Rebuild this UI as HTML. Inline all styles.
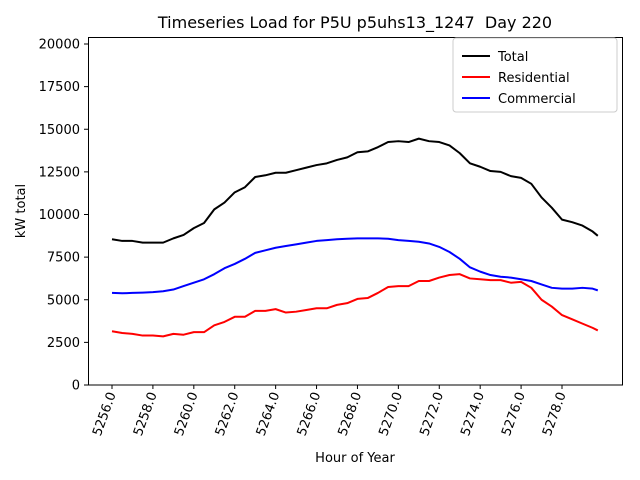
<!DOCTYPE html>
<html><head><meta charset="utf-8"><style>body{margin:0;background:#fff}svg{display:block;font-family:"DejaVu Sans","Liberation Sans",sans-serif}</style></head>
<body>
<svg id="chart" width="640" height="480" viewBox="0 0 640 480">
<rect width="640" height="480" fill="#fff"/>
<text x="355" y="28" font-size="16" text-anchor="middle">Timeseries Load for P5U p5uhs13_1247&#160; Day 220</text>
<g id="grid"></g>
<g id="series"></g>
<rect x="88.5" y="37.5" width="534" height="347.5" fill="none" stroke="#000" stroke-width="1"/>
<text transform="translate(25,211) rotate(-90)" font-size="13" text-anchor="middle">kW total</text>
<text x="355" y="462" font-size="13" text-anchor="middle">Hour of Year</text>
<g>
<rect x="453" y="38" width="164" height="74" rx="3" fill="#fff" stroke="#ccc"/>
<line x1="462" y1="56" x2="490" y2="56" stroke="#000" stroke-width="2"/><text x="498" y="61" font-size="13">Total</text>
<line x1="462" y1="77" x2="490" y2="77" stroke="red" stroke-width="2"/><text x="498" y="82" font-size="13">Residential</text>
<line x1="462" y1="98" x2="490" y2="98" stroke="blue" stroke-width="2"/><text x="498" y="103" font-size="13">Commercial</text>
</g>
</svg>
<script>
const hours=[5256,5256.5,5257,5257.5,5258,5258.5,5259,5259.5,5260,5260.5,5261,5261.5,5262,5262.5,5263,5263.5,5264,5264.5,5265,5265.5,5266,5266.5,5267,5267.5,5268,5268.5,5269,5269.5,5270,5270.5,5271,5271.5,5272,5272.5,5273,5273.5,5274,5274.5,5275,5275.5,5276,5276.5,5277,5277.5,5278,5278.5,5279,5279.5,5279.75];
const total=[8550,8450,8450,8350,8350,8350,8600,8800,9200,9500,10300,10700,11300,11600,12200,12300,12450,12450,12600,12750,12900,13000,13200,13350,13650,13700,13950,14250,14300,14250,14450,14300,14250,14050,13600,13000,12800,12550,12500,12250,12150,11800,11000,10400,9700,9550,9350,9000,8750];
const residential=[3150,3050,3000,2900,2900,2850,3000,2950,3100,3100,3500,3700,4000,4000,4350,4350,4450,4250,4300,4400,4500,4500,4700,4800,5050,5100,5400,5750,5800,5800,6100,6100,6300,6450,6500,6250,6200,6150,6150,6000,6050,5700,5000,4600,4100,3850,3600,3350,3200];
const commercial=[5400,5380,5400,5420,5450,5500,5600,5800,6000,6200,6500,6850,7100,7400,7750,7900,8050,8150,8250,8350,8450,8500,8550,8580,8600,8600,8600,8580,8500,8450,8400,8300,8100,7800,7400,6900,6650,6450,6350,6300,6200,6100,5900,5700,5650,5650,5700,5650,5550];
const yTicks=[0,2500,5000,7500,10000,12500,15000,17500,20000];
const xTicks=[5256,5258,5260,5262,5264,5266,5268,5270,5272,5274,5276,5278];
const NS="http://www.w3.org/2000/svg";
const X=h=>112+(h-5256)*20.4545;
const Y=v=>385-v*341/20000;
const grid=document.getElementById('grid');
function mk(tag,attrs,parent){const e=document.createElementNS(NS,tag);for(const k in attrs)e.setAttribute(k,attrs[k]);parent.appendChild(e);return e;}
yTicks.forEach(v=>{
  const y=Y(v);
  const t=mk('line',{x1:84,x2:88,y1:y,y2:y,stroke:'#000'},grid);
  
  
  const l=mk('text',{x:80,y:y+4.5,'font-size':13,'text-anchor':'end'},grid);
  l.textContent=v;
  
  
});
xTicks.forEach(h=>{
  const x=X(h);
  const t=mk('line',{x1:x,x2:x,y1:385,y2:389,stroke:'#000'},grid);
  
  
  const l=mk('text',{transform:`translate(${x+4},394) rotate(-70)`,'font-size':13,'text-anchor':'end'},grid);
  l.textContent=h.toFixed(1);
  
  
});
const sg=document.getElementById('series');
[[total,'#000','total-line'],[residential,'red','residential-line'],[commercial,'blue','commercial-line']].forEach(([vals,c,n])=>{
  const p=mk('polyline',{points:vals.map((v,i)=>X(hours[i])+','+Y(v)).join(' '),fill:'none',stroke:c,'stroke-width':2,'stroke-linejoin':'round'},sg);
  
  
});
</script>
</body></html>
